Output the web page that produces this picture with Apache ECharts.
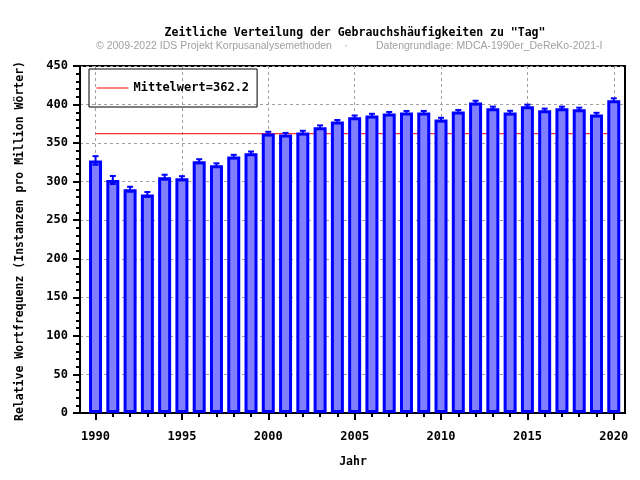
<!DOCTYPE html>
<html><head><meta charset="utf-8">
<script src="https://cdn.jsdelivr.net/npm/echarts@6/dist/echarts.min.js"></script>
<style>html,body{margin:0;padding:0;background:#fff}#c{width:640px;height:480px}</style>
</head><body><div id="c"></div>
<script>
const years = [1990,1991,1992,1993,1994,1995,1996,1997,1998,1999,2000,2001,2002,2003,2004,2005,2006,2007,2008,2009,2010,2011,2012,2013,2014,2015,2016,2017,2018,2019,2020];
const values = [327.5,302.2,290.2,283.4,305.8,304.5,326.5,321.4,332.6,336.9,362.5,361.2,363.8,370.6,378.0,383.6,385.8,388.4,389.7,389.7,380.6,391.0,402.7,395.3,389.7,397.9,392.7,395.3,394.0,387.1,405.7];
const errors = [5.6,5.2,3.2,3.2,3.2,2.6,2.6,2.4,2.2,2.2,2.2,2.0,2.2,2.4,2.0,2.2,2.2,2.0,2.0,2.0,2.2,2.0,2.2,2.0,2.2,2.0,2.0,2.0,2.0,2.2,2.4];
const meanValue = 362.2;
const meanName = 'Mittelwert=362.2';
const xTickValues = [1990,1995,2000,2005,2010,2015,2020];
const yTickLabels = [0,50,100,150,200,250,300,350,400,450];

const mono = 'DejaVu Sans Mono';
const chart = echarts.init(document.getElementById('c'), null, {renderer:'canvas'});
chart.setOption({
  animation:false,
  backgroundColor:'#fff',
  grid:{left:80,right:15,top:66,bottom:67,show:true,borderColor:'#000',borderWidth:2,backgroundColor:'transparent'},
  legend:{
    left:89, top:69, orient:'vertical', data:[meanName],
    itemWidth:32, itemHeight:13, itemGap:5,
    itemStyle:{opacity:0},
    lineStyle:{color:'#ff0000', width:1, opacity:1},
    borderColor:'#000', borderWidth:1, borderRadius:0, padding:[13,8,13,7],
    textStyle:{fontFamily:mono, fontWeight:'bold', fontSize:12, color:'#000'}
  },
  graphic:[
    {type:'text', style:{text:'Zeitliche Verteilung der Gebrauchshäufigkeiten zu "Tag"', x:355, y:33, textAlign:'center', textVerticalAlign:'middle', font:'bold 11.5px "DejaVu Sans Mono"', fill:'#000'}},
    {type:'text', style:{text:'© 2009-2022 IDS Projekt Korpusanalysemethoden', x:96, y:46, textAlign:'left', textVerticalAlign:'middle', font:'10.5px "Liberation Sans"', fill:'#a0a0a0'}},
    {type:'text', style:{text:'·', x:346, y:46, textAlign:'center', textVerticalAlign:'middle', font:'10.5px "Liberation Sans"', fill:'#a0a0a0'}},
    {type:'text', style:{text:'Datengrundlage: MDCA-1990er_DeReKo-2021-I', x:376, y:46, textAlign:'left', textVerticalAlign:'middle', font:'10.5px "Liberation Sans"', fill:'#a0a0a0'}},
    {type:'text', x:20, y:241, rotation:Math.PI/2, style:{text:'Relative Wortfrequenz (Instanzen pro Million Wörter)', textAlign:'center', textVerticalAlign:'middle', font:'bold 11.5px "DejaVu Sans Mono"', fill:'#000'}},
    {type:'text', style:{text:'Jahr', x:353, y:462, textAlign:'center', textVerticalAlign:'middle', font:'bold 11.5px "DejaVu Sans Mono"', fill:'#000'}}
  ],
  xAxis:{
    type:'value', min:1989.1, max:2020.65, splitNumber:6,
    axisLine:{show:true, onZero:false, lineStyle:{color:'#000', width:2}},
    axisTick:{show:true, length:7, customValues:xTickValues, lineStyle:{color:'#000', width:2}},
    minorTick:{show:true, splitNumber:5, length:4, lineStyle:{color:'#000', width:2}},
    axisLabel:{customValues:xTickValues, margin:18, fontFamily:mono, fontWeight:'bold', fontSize:12, color:'#000', formatter:v=>String(v)},
    splitLine:{show:true, lineStyle:{color:'#a0a0a0', width:1, type:[3,3]}}
  },
  yAxis:{
    type:'value', min:0, max:450, interval:50,
    axisLine:{show:true, lineStyle:{color:'#000', width:2}},
    axisTick:{show:true, length:7, lineStyle:{color:'#000', width:2}},
    minorTick:{show:true, splitNumber:5, length:4, lineStyle:{color:'#000', width:2}},
    axisLabel:{margin:12, fontFamily:mono, fontWeight:'bold', fontSize:12, color:'#000', formatter:v=>yTickLabels.includes(v)?String(v):''},
    splitLine:{show:true, lineStyle:{color:'#a0a0a0', width:1, type:[3,3]}}
  },
  series:[
    {name:meanName, type:'line', z:1, symbol:'none', silent:true, color:'#ff0000',
     lineStyle:{color:'#ff0000', width:1},
     data:[[years[0], meanValue],[years[years.length-1], meanValue]]},
    {name:'Werte', type:'bar', z:2, barWidth:13, silent:true,
     itemStyle:{color:'#8080ff', borderColor:'#0000ff', borderWidth:3},
     data:years.map((y,i)=>[y, values[i]])},
    {name:'Fehler', type:'custom', z:3, silent:true,
     data:years.map((y,i)=>[y, values[i]-errors[i], values[i]+errors[i]]),
     renderItem:function(params, api){
       const x = api.value(0);
       const lo = api.coord([x, api.value(1)]);
       const hi = api.coord([x, api.value(2)]);
       const hw = 3;
       const st = {stroke:'#0000ff', lineWidth:2, fill:null};
       return {type:'group', children:[
         {type:'line', shape:{x1:lo[0],y1:lo[1],x2:hi[0],y2:hi[1]}, style:st},
         {type:'line', shape:{x1:lo[0]-hw,y1:lo[1],x2:lo[0]+hw,y2:lo[1]}, style:st},
         {type:'line', shape:{x1:hi[0]-hw,y1:hi[1],x2:hi[0]+hw,y2:hi[1]}, style:st}
       ]};
     }}
  ]
});
</script></body></html>
